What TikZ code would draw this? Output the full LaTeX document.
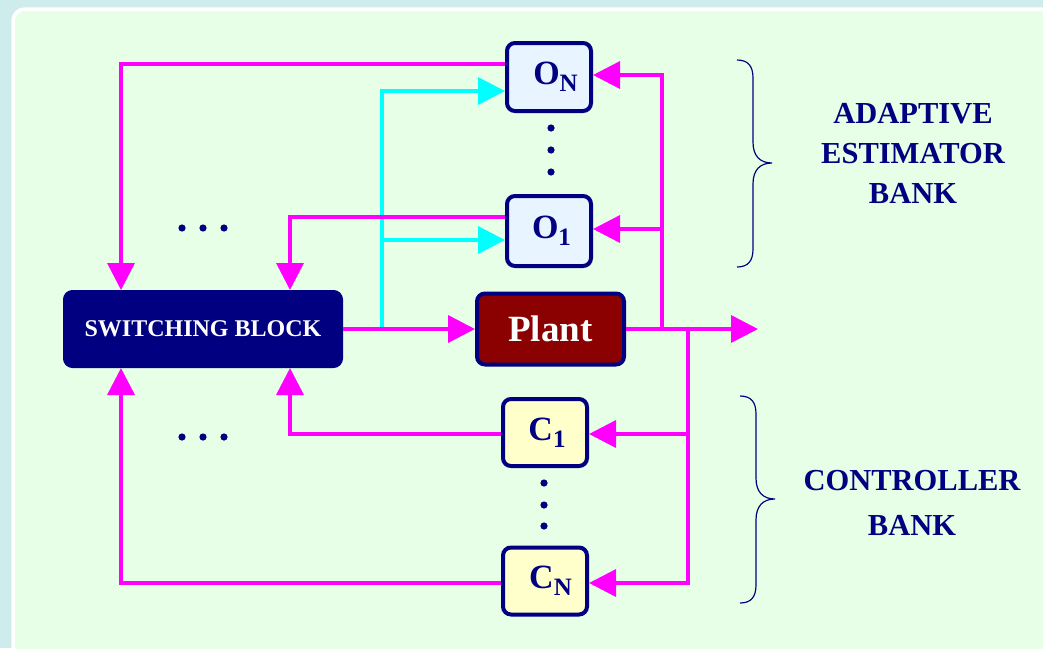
\documentclass[tikz,border=0pt]{standalone}
\usepackage{fontspec}
\setmainfont{Liberation Serif}
\usetikzlibrary{arrows.meta}
\definecolor{navy}{HTML}{000080}
\definecolor{mag}{HTML}{FF00FF}
\definecolor{cy}{HTML}{00FFFF}
\definecolor{plantred}{HTML}{8B0000}
\definecolor{oblue}{HTML}{E8F4FF}
\definecolor{cyellow}{HTML}{FFFFCC}
\definecolor{panel}{HTML}{E6FFE6}
\definecolor{outerbg}{HTML}{CFECEC}
\newcommand{\sbx}[3]{\hspace*{#3}#1\raisebox{-7pt}{\fontsize{25}{25}\selectfont #2}}
\begin{document}
\begin{tikzpicture}[x=1pt,y=-1pt,
  blockbox/.style={draw=navy, line width=4pt, rounded corners=8pt, inner sep=0pt,
    font=\bfseries\fontsize{34}{34}\selectfont, text=navy,
    minimum width=84pt, minimum height=68pt},
  obox/.style={blockbox, fill=oblue},
  cbox/.style={blockbox, fill=cyellow, minimum height=67pt},
  sig/.style={draw=mag, line width=3.5pt},
  cyl/.style={draw=cy, line width=3.5pt},
  arr/.style={-{Triangle[length=27pt,width=27pt]}},
  lbl/.style={text=navy, align=center, inner sep=0pt},
  brace/.style={draw=navy, line width=1.2pt}
]
\useasboundingbox (0,0) rectangle (1043,648);
\fill[outerbg] (0,0) rectangle (1043,648);
\begin{scope}
\clip (0,0) rectangle (1043,648);
\draw[white, line width=3.5pt, fill=panel, rounded corners=12pt] (13,9) rectangle (1075,660);
\end{scope}

% nodes
\node[obox] (ON) at (549,77) {\sbx{O}{N}{13pt}};
\node[obox, minimum height=70pt] (O1) at (549,231) {\sbx{O}{1}{5pt}};
\node[draw=navy, line width=4pt, fill=plantred, rounded corners=8pt, inner sep=0pt,
  minimum width=147pt, minimum height=71pt, text=white,
  font=\bfseries\fontsize{37}{37}\selectfont] (Plant) at (550.5,329) {Plant};
\node[draw=navy, line width=1pt, fill=navy, rounded corners=9pt, inner sep=0pt,
  minimum width=279pt, minimum height=77pt, text=white,
  font=\bfseries\fontsize{24}{24}\selectfont] (SW) at (203,329) {SWITCHING BLOCK};
\node[cbox] (C1) at (545,432.5) {\sbx{C}{1}{4pt}};
\node[cbox] (CN) at (545,581) {\sbx{C}{N}{11pt}};
\coordinate (out) at (758,329);

% cyan
\draw[cyl,arr] (SW.east -| 382,0) |- (ON.west |- 0,91);
\draw[cyl,arr] (382,240) -- (O1.west |- 0,240);

% magenta
\draw[sig,arr] (ON.west |- 0,64) -| (SW.north -| 121,0);
\draw[sig,arr] (O1.west |- 0,217) -| (SW.north -| 290,0);
\draw[sig,arr] (SW.east) -- (Plant.west);
\draw[sig,arr] (Plant.east) -- (out);
\draw[sig,arr] (Plant.east -| 662,0) |- (ON.east |- 0,75);
\draw[sig,arr] (662,229) -- (O1.east |- 0,229);
\draw[sig,arr] (Plant.east -| 688,0) |- (CN.east |- 0,583);
\draw[sig,arr] (688,434) -- (C1.east |- 0,434);
\draw[sig,arr] (C1.west |- 0,434) -| (SW.south -| 290,0);
\draw[sig,arr] (CN.west |- 0,583) -| (SW.south -| 121,0);

% dots
\foreach \yy in {128,150,172} \fill[navy] (551,\yy) circle (3.6pt);
\foreach \yy in {483,505,526} \fill[navy] (544,\yy) circle (3.6pt);
\foreach \xx in {182,203,224} {\fill[navy] (\xx,228) circle (3.6pt); \fill[navy] (\xx,437) circle (3.6pt);}

% braces
\draw[brace] (737,60) .. controls (748,60) and (753,66) .. (753,78) -- (753,142)
  .. controls (753,156) and (760,163) .. (772,163)
  .. controls (760,163) and (753,170) .. (753,184) -- (753,249)
  .. controls (753,261) and (748,267) .. (737,267);
\draw[brace] (740,396) .. controls (751,396) and (756,402) .. (756,414) -- (756,478)
  .. controls (756,492) and (763,499) .. (775,499)
  .. controls (763,499) and (756,506) .. (756,520) -- (756,585)
  .. controls (756,597) and (751,603) .. (740,603);

% labels
\node[lbl, font=\bfseries\fontsize{30.5}{40}\selectfont] (AEB) at (913,153) {ADAPTIVE\\ESTIMATOR\\BANK};
\node[lbl, font=\bfseries\fontsize{30.5}{45}\selectfont] (CB) at (912,502.5) {CONTROLLER\\BANK};
\end{tikzpicture}
\end{document}
